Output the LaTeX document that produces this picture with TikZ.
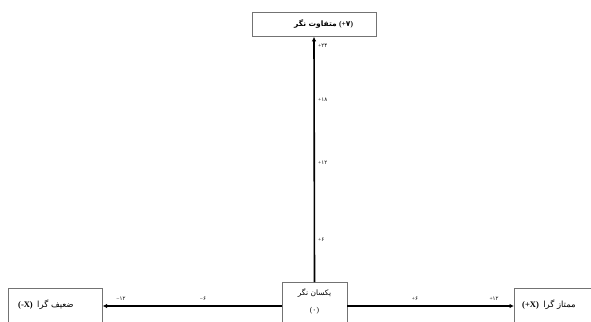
\documentclass[tikz,border=0pt]{standalone}
\usepackage{fontspec}
\setmainfont{Liberation Serif}
\newfontfamily\arabicfont[Script=Arabic]{DejaVu Sans}
\TeXXeTstate=1
\usetikzlibrary{arrows.meta}
\newcommand{\fa}[1]{{\arabicfont #1}}
\tikzset{
  box/.style={draw=black!55, line width=0.6pt, fill=white, inner sep=0pt},
  lbl/.style={inner sep=0pt, font=\fontsize{7.5}{9}\selectfont},
  slbl/.style={inner sep=0pt, font=\fontsize{8.5}{10}\selectfont},
  axis/.style={line width=1.6pt, -{Latex[length=4.5pt,width=4.5pt]}},
  tick/.style={inner sep=0pt, font=\fontsize{5.5}{6}\selectfont},
}
\begin{document}
\begin{tikzpicture}[x=1pt,y=-1pt]
\useasboundingbox (0,0) rectangle (591,321);
\clip (0,0) rectangle (591,321);
% top box
\node[box, minimum width=124pt, minimum height=24pt] (top) at (314,24.5) {};
\node[lbl, anchor=east] (topfa) at (337,24.5) {\arabicfont\bfseries\beginR متفاوت نگر\endR};
\node[lbl, anchor=west] (toplat) at (339,24.5) {\textbf{(+\fa{۷})}};
% middle box
\node[box, minimum width=65pt, minimum height=42pt, anchor=north] (mid) at (314.5,282) {};
\node[lbl] (midt1) at (314.5,293) {\arabicfont\beginR یکسان نگر\endR};
\node[lbl] (midt2) at (314.5,311) {(\fa{۰})};
% left box
\node[box, minimum width=94pt, minimum height=36pt, anchor=west] (left) at (8,306) {};
\node[slbl, anchor=west] (leftlat) at (18,305) {\textbf{(-X)}};
\node[slbl, anchor=west] (leftfa) at ([xshift=4pt]leftlat.east) {\arabicfont\beginR ضعیف گرا\endR};
% right box
\node[box, minimum width=92pt, minimum height=36pt, anchor=west] (right) at (514,306) {};
\node[slbl, anchor=west] (rightlat) at (522,305) {\textbf{(+X)}};
\node[slbl, anchor=west] (rightfa) at ([xshift=4pt]rightlat.east) {\arabicfont\beginR ممتاز گرا\endR};
% axes
\draw[axis] (mid.north) -- (top.south);
\draw[axis] (mid.west |- left.east) -- (left.east);
\draw[axis] (mid.east |- right.west) -- (right.west);
% ticks
\node[tick, anchor=west] (v24) at (318,46) {+\fa{۲۴}};
\node[tick, anchor=west] (v18) at (318,100) {+\fa{۱۸}};
\node[tick, anchor=west] (v12) at (318,163) {+\fa{۱۲}};
\node[tick, anchor=west] (v6) at (318,240) {+\fa{۶}};
\node[tick] (hm12) at (121,299) {−\fa{۱۲}};
\node[tick] (hm6) at (203,299) {−\fa{۶}};
\node[tick] (hp6) at (415,299) {+\fa{۶}};
\node[tick] (hp12) at (494,299) {+\fa{۱۲}};
\end{tikzpicture}
\end{document}
